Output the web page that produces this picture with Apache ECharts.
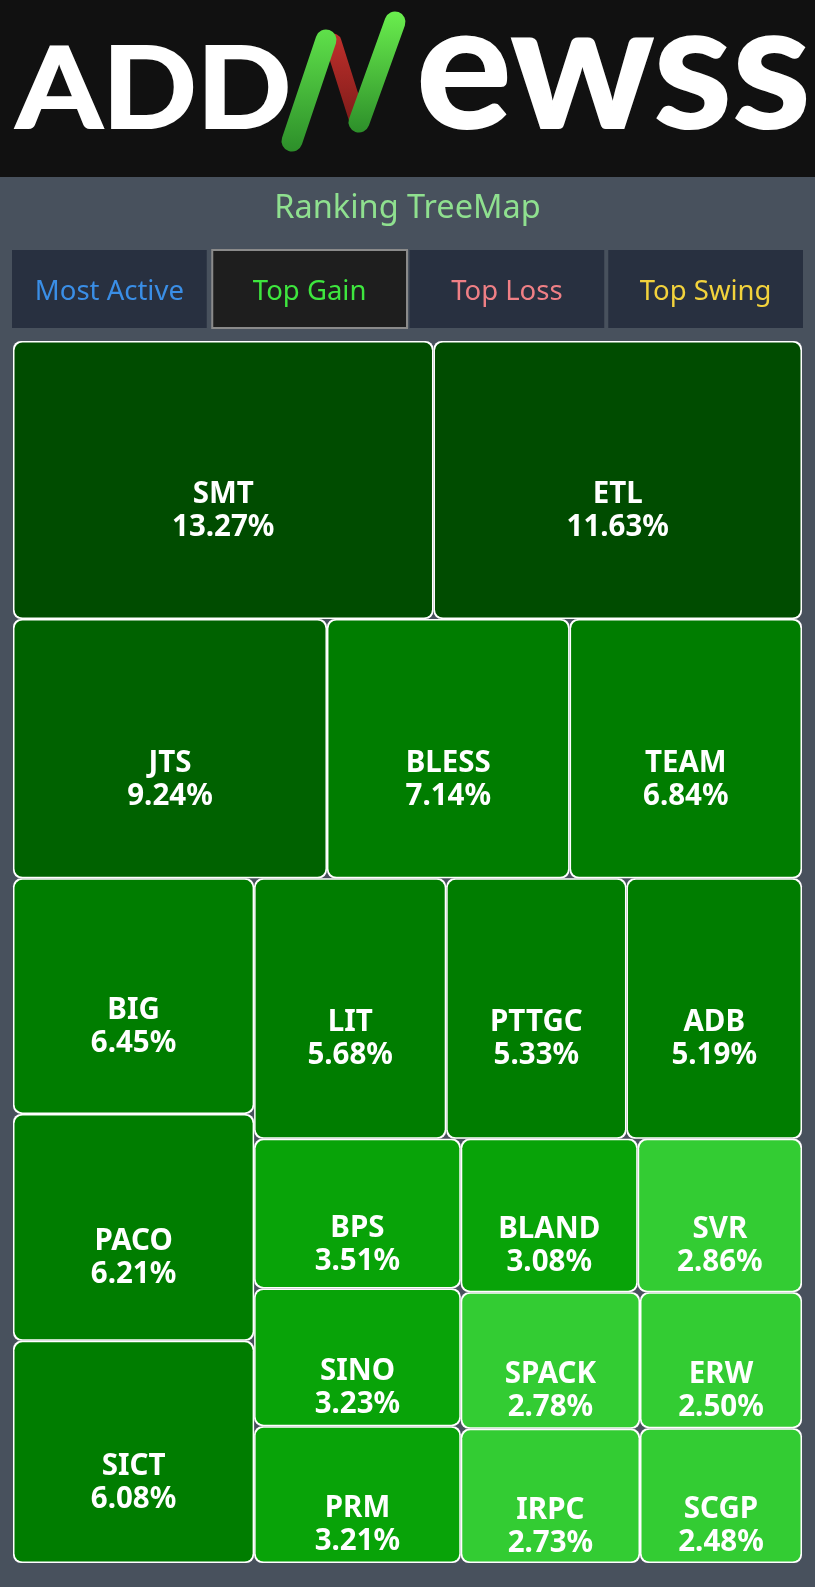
<!DOCTYPE html>
<html>
<head>
<meta charset="utf-8">
<script src="https://cdn.jsdelivr.net/npm/echarts@6/dist/echarts.min.js"></script>
<style>
  html, body { margin: 0; padding: 0; background: #48515d; }
  #chart { width: 815px; height: 1587px; }
</style>
</head>
<body>
<div id="chart"></div>
<script>
// Ranking data: symbol and daily gain (%)
const symbols = ['SMT', 'ETL', 'JTS', 'BLESS', 'TEAM', 'BIG', 'PACO', 'SICT', 'LIT', 'PTTGC',
                 'ADB', 'BPS', 'SINO', 'PRM', 'BLAND', 'SVR', 'SPACK', 'IRPC', 'ERW', 'SCGP'];
const gainPct = [13.27, 11.63, 9.24, 7.14, 6.84, 6.45, 6.21, 6.08, 5.68, 5.33,
                 5.19, 3.51, 3.23, 3.21, 3.08, 2.86, 2.78, 2.73, 2.50, 2.48];
const tabLabels = ['Most Active', 'Top Gain', 'Top Loss', 'Top Swing'];
const tabColors = ['#3a8ee6', '#3ee63e', '#ef7f85', '#f2d23c'];
const activeTab = 1;
const chartTitle = 'Ranking TreeMap';

// Darker green for bigger gains
function gainColor(v) {
  if (v >= 10) return '#004c00';
  if (v >= 8) return '#006200';
  if (v >= 5) return '#007d00';
  if (v >= 3) return '#08a308';
  return '#33cc33';
}

const chart = echarts.init(document.getElementById('chart'), null, { renderer: 'canvas' });

// Tab bar
const tabX0 = 12, tabGap = 4, tabW = (791 - 3 * tabGap) / 4, tabY = 250, tabH = 78;
const tabElements = [];
tabLabels.forEach((label, i) => {
  const x = tabX0 + i * (tabW + tabGap) + (i === activeTab ? 1.5 : 0);
  const active = i === activeTab;
  tabElements.push({
    type: 'rect',
    shape: { x: x, y: tabY, width: tabW, height: tabH },
    style: active ? { fill: '#1e1e1e', stroke: '#8a8a8a', lineWidth: 2 } : { fill: '#283040' },
    silent: true
  });
  tabElements.push({
    type: 'text',
    style: {
      text: label, x: x + tabW / 2, y: tabY + tabH / 2 + 3.5,
      align: 'center', verticalAlign: 'middle', textAlign: 'center', textVerticalAlign: 'middle',
      fill: tabColors[i], fontSize: 27.5, fontFamily: 'Noto Sans'
    },
    silent: true
  });
});

// Logo wordmark in the header
const logoElements = [
  { type: 'rect', shape: { x: 0, y: 0, width: 815, height: 177 }, style: { fill: '#111111' }, silent: true },
  {
    type: 'text', x: 16, y: 92, scaleX: 1.1,
    style: {
      text: 'ADD', x: 0, y: 0, align: 'left', verticalAlign: 'middle', textAlign: 'left', textVerticalAlign: 'middle',
      fill: '#ffffff', stroke: '#ffffff', lineWidth: 2, lineJoin: 'round',
      fontSize: 113, fontWeight: 'bold', fontFamily: 'Lato'
    },
    silent: true
  },
  {
    type: 'line', shape: { x1: 333, y1: 42, x2: 358, y2: 121 },
    style: { stroke: { type: 'linear', x: 0, y: 0, x2: 0, y2: 1, colorStops: [{ offset: 0, color: '#c0302c' }, { offset: 1, color: '#7a1a18' }] },
           lineWidth: 17, lineCap: 'round' },
    silent: true
  },
  {
    type: 'line', shape: { x1: 292, y1: 141, x2: 326, y2: 40 },
    style: { stroke: { type: 'linear', x: 0, y: 1, x2: 0, y2: 0, colorStops: [{ offset: 0, color: '#2d8f2a' }, { offset: 1, color: '#5fe04a' }] },
           lineWidth: 21, lineCap: 'round' },
    silent: true
  },
  {
    type: 'line', shape: { x1: 359, y1: 122, x2: 395, y2: 22 },
    style: { stroke: { type: 'linear', x: 0, y: 1, x2: 0, y2: 0, colorStops: [{ offset: 0, color: '#2d8f2a' }, { offset: 1, color: '#6aee4e' }] },
           lineWidth: 21, lineCap: 'round' },
    silent: true
  },
  {
    type: 'text', x: 416, y: 72, scaleX: 1.03,
    style: {
      text: 'ewss', x: 0, y: 0, align: 'left', verticalAlign: 'middle', textAlign: 'left', textVerticalAlign: 'middle',
      fill: '#ffffff', stroke: '#ffffff', lineWidth: 2, lineJoin: 'round',
      fontSize: 174, fontWeight: 'bold', fontFamily: 'Lato'
    },
    silent: true
  },
  {
    type: 'text',
    style: {
      text: chartTitle, x: 407.5, y: 209, align: 'center', verticalAlign: 'middle', textAlign: 'center', textVerticalAlign: 'middle',
      fill: '#8fe08f', fontSize: 32.5, fontFamily: 'Noto Sans'
    },
    silent: true
  }
];

const option = {
  backgroundColor: '#48515d',
  animation: false,
  graphic: { elements: logoElements.concat(tabElements) },
  series: [{
    type: 'treemap',
    left: 13, top: 341, width: 789, height: 1222,
    squareRatio: 1,
    sort: 'desc',
    roam: false,
    nodeClick: false,
    silent: true,
    breadcrumb: { show: false },
    label: {
      show: true,
      position: 'inside',
      color: '#ffffff',
      fontFamily: 'Noto Sans',
      fontWeight: 'bold',
      fontSize: 29.5,
      lineHeight: 33,
      offset: [0, 31],
      formatter: p => p.name + '\n' + Number(p.value).toFixed(2) + '%'
    },
    levels: [
      { itemStyle: { borderWidth: 0, gapWidth: 0, borderColor: 'rgba(0,0,0,0)' } },
      { itemStyle: { borderWidth: 1.5, gapWidth: 0, borderColor: '#ffffff', borderRadius: 8 } }
    ],
    data: symbols.map((s, i) => ({ name: s, value: gainPct[i], itemStyle: { color: gainColor(gainPct[i]) } }))
  }]
};

chart.setOption(option);
</script>
</body>
</html>
